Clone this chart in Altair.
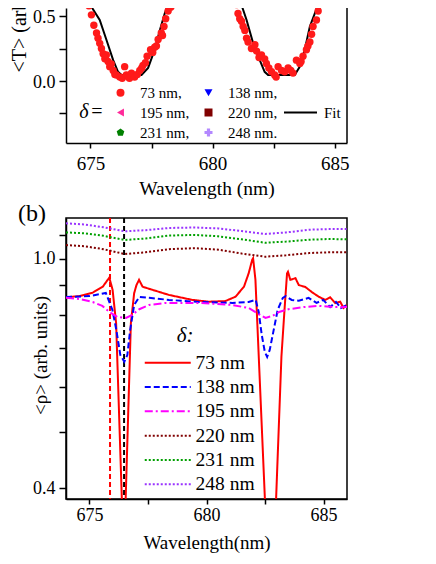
import altair as alt
import pandas as pd

FONT = "Liberation Serif"

# ---------------- data ----------------
series = ["73 nm", "138 nm", "195 nm", "220 nm", "231 nm", "248 nm"]
top_colors = ["#ff1a1a", "#0000ff", "#ff2a9a", "#800000", "#008000", "#b388ff"]
top_shapes = ["circle", "triangle-down", "triangle-left", "square",
              "M0,-1L0.951,-0.309L0.588,0.809L-0.588,0.809L-0.951,-0.309Z", "cross"]
line_colors = ["#ff0000", "#0000ff", "#ff00ff", "#800000", "#00a000", "#9933ff"]
line_dashes = [[1, 0], [6, 3], [8, 3, 2, 3], [2, 2], [2, 2], [2, 2]]

# panel (a): measured <T> for 73 nm
t73_wl = [674.90, 674.94, 675.04, 675.14, 675.25, 675.31, 675.38, 675.45, 675.52, 675.59,
          675.65, 675.72, 675.79, 675.85, 675.93, 676.00, 676.06, 676.20, 676.30, 676.40,
          676.47, 676.55, 676.60, 676.68, 676.81, 676.92, 677.02, 677.10, 677.15, 677.25,
          677.32, 677.46, 677.55, 677.63, 677.70, 677.77, 677.90, 677.95, 678.01, 678.08,
          678.18, 678.29, 678.38, 678.45,
          680.95, 680.98, 681.04, 681.11, 681.18, 681.25, 681.32, 681.39, 681.45, 681.59,
          681.73, 681.80, 681.90, 682.00, 682.13, 682.20, 682.30, 682.41, 682.54, 682.60,
          682.68, 682.82, 682.95, 683.09, 683.20, 683.29, 683.43, 683.57, 683.62, 683.70,
          683.84, 683.90, 683.98, 684.05, 684.11, 684.25, 684.32, 684.45, 684.50]
t73_val = [0.62, 0.58, 0.51, 0.43, 0.37, 0.33, 0.29, 0.25, 0.21, 0.17,
           0.20, 0.15, 0.11, 0.13, 0.08, 0.05, 0.045, 0.03, 0.02, 0.11,
           0.045, 0.03, 0.02, 0.06, 0.03, 0.05, 0.08, 0.10, 0.12, 0.14,
           0.19, 0.24, 0.22, 0.26, 0.27, 0.32, 0.37, 0.35, 0.42, 0.48,
           0.54, 0.57, 0.60, 0.64,
           0.63, 0.59, 0.52, 0.48, 0.46, 0.42, 0.39, 0.33, 0.30, 0.25,
           0.28, 0.23, 0.18, 0.20, 0.17, 0.135, 0.10, 0.07, 0.045, 0.03,
           0.11, 0.08, 0.07, 0.10, 0.08, 0.06, 0.16, 0.135, 0.15, 0.19,
           0.24, 0.27, 0.30, 0.36, 0.42, 0.47, 0.54, 0.61, 0.64]

fit_wl = [674.70, 674.86, 675.38, 675.65, 675.93, 676.13, 676.27, 677.09, 677.36, 677.63,
          677.84, 678.04, 678.25, 678.45, 679.70, 680.95, 681.11, 681.39, 681.66, 681.93,
          682.13, 682.27, 683.36, 683.57, 683.77, 683.98, 684.18, 684.39, 684.55]
fit_val = [0.75, 0.627, 0.47, 0.32, 0.16, 0.07, 0.045, 0.045, 0.10, 0.24,
           0.39, 0.52, 0.627, 0.72, 1.00, 0.72, 0.627, 0.47, 0.29, 0.16,
           0.07, 0.045, 0.045, 0.11, 0.24, 0.42, 0.52, 0.627, 0.72]

# panel (b): <rho> spectra
b73_wl = [674.00, 674.57, 675.14, 675.57, 675.78, 675.85, 675.99, 676.14, 676.47, 676.77,
          676.91, 677.01, 677.12, 677.27, 677.69, 678.40, 679.40, 680.10, 680.80, 681.24,
          681.60, 681.80, 681.95, 681.99, 682.09, 682.75, 683.20, 683.34, 683.44, 683.48,
          683.58, 683.80, 683.94, 684.22, 684.50, 684.79, 685.07, 685.28, 685.50, 685.71,
          685.85, 686.00]
b73_val = [0.858, 0.862, 0.874, 0.895, 0.920, 0.928, 0.884, 0.774, 0.30, 0.773,
           0.872, 0.901, 0.920, 0.895, 0.884, 0.866, 0.849, 0.843, 0.845, 0.860,
           0.895, 0.944, 0.996, 1.003, 0.920, 0.22, 0.677, 0.826, 0.944, 0.950,
           0.920, 0.926, 0.901, 0.894, 0.876, 0.860, 0.849, 0.858, 0.838, 0.843,
           0.822, 0.832]

b138_wl = [674.00, 675.00, 675.70, 675.98, 676.15, 676.32, 676.49, 676.62, 676.74, 676.91,
           677.13, 677.55, 678.40, 679.68, 681.10, 681.80, 682.10, 682.23, 682.36, 682.49,
           682.59, 682.70, 682.87, 683.04, 683.26, 683.38, 683.64, 683.94, 684.36, 684.70,
           684.98, 685.28, 685.53, 685.74, 686.00]
b138_val = [0.859, 0.862, 0.873, 0.816, 0.753, 0.681, 0.663, 0.681, 0.753, 0.832,
            0.859, 0.856, 0.849, 0.842, 0.839, 0.842, 0.849, 0.809, 0.738, 0.690,
            0.676, 0.695, 0.753, 0.816, 0.856, 0.862, 0.849, 0.846, 0.856, 0.839,
            0.849, 0.825, 0.842, 0.822, 0.832]

b195_wl = [674.00, 674.57, 675.14, 675.55, 675.85, 676.19, 676.56, 676.83, 677.13, 677.55,
           678.28, 679.68, 681.10, 681.80, 682.15, 682.52, 682.80, 683.10, 683.50, 684.15,
           684.80, 685.40, 686.00]
b195_val = [0.856, 0.852, 0.842, 0.829, 0.809, 0.793, 0.790, 0.800, 0.818, 0.832,
            0.839, 0.839, 0.832, 0.822, 0.806, 0.790, 0.796, 0.809, 0.818, 0.825,
            0.829, 0.825, 0.825]

smooth_wl = [674.0, 674.8, 675.6, 676.5, 677.4, 678.4, 679.5, 680.5, 681.5, 682.5,
             683.4, 684.4, 685.2, 686.0]
b220_val = [1.057, 1.052, 1.040, 1.020, 1.027, 1.040, 1.044, 1.038, 1.022, 1.009,
            1.015, 1.024, 1.027, 1.027]
b231_val = [1.112, 1.108, 1.097, 1.079, 1.085, 1.098, 1.101, 1.095, 1.082, 1.067,
            1.072, 1.080, 1.083, 1.082]
b248_val = [1.153, 1.148, 1.135, 1.117, 1.122, 1.132, 1.134, 1.130, 1.118, 1.105,
            1.112, 1.124, 1.127, 1.127]

marker_wl = [675.88, 676.48]
marker_colors = ["#ff0000", "#000000"]

x_ticks = [675, 677.5, 680, 682.5, 685]
ya_ticks = [-0.25, 0, 0.25, 0.5]
yb_ticks = [0.4, 0.5, 0.6, 0.7, 0.8, 0.9, 1.0, 1.1]

# ---------------- tables ----------------
top_pts = pd.DataFrame({"wl": t73_wl, "val": t73_val, "series": "73 nm"})
top_fit = pd.DataFrame({"wl": fit_wl, "val": fit_val, "kind": "Fit"})

rows = []
for name, wls, vals in [("73 nm", b73_wl, b73_val), ("138 nm", b138_wl, b138_val),
                        ("195 nm", b195_wl, b195_val), ("220 nm", smooth_wl, b220_val),
                        ("231 nm", smooth_wl, b231_val), ("248 nm", smooth_wl, b248_val)]:
    for w, v in zip(wls, vals):
        rows.append({"series": name, "wl": w, "val": v, "order": series.index(name)})
bot = pd.DataFrame(rows)

W = 281
HA = 135
HB = 281

# ---------------- panel (a) ----------------
xa = alt.X("wl:Q", scale=alt.Scale(domain=[674, 685.5], nice=False, zero=False),
           axis=alt.Axis(values=x_ticks, format=".1f",
                         labelExpr="datum.value % 5 == 0 ? format(datum.value, 'd') : ''",
                         labelFontSize=19, tickSize=5, tickWidth=1.5, labelPadding=6,
                         domainWidth=1.5, title="Wavelength (nm)", titleFontSize=19.5,
                         titleY=45, titleBaseline="middle", grid=False))
ya = alt.Y("val:Q", scale=alt.Scale(domain=[-0.48, 0.563], nice=False, zero=False),
           axis=alt.Axis(values=ya_ticks,
                         labelExpr="datum.value == 0 || datum.value == 0.5 ? format(datum.value, '.1f') : ''",
                         labelFontSize=18, labelOffset=1.5, tickSize=7, tickWidth=1.5,
                         labelPadding=4, domainWidth=1.5, title="<T> (arb. units)",
                         titleFontSize=20, titleAngle=270, titleAlign="left",
                         titleBaseline="alphabetic", titleX=-41, titleY=64, grid=False))

legA = alt.Legend(title=None, orient="none", legendX=47, legendY=77, columns=2,
                  direction="horizontal",
                  labelExpr="datum.label + (datum.label == '248 nm' ? '.' : ',')",
                  labelFontSize=15, symbolSize=64, labelOffset=12, columnPadding=11,
                  rowPadding=4, padding=0, symbolStrokeWidth=0)

pts = alt.Chart(top_pts).mark_point(filled=True, size=55, opacity=1, clip=True).encode(
    x=xa, y=ya,
    fill=alt.Fill("series:N", scale=alt.Scale(domain=series, range=top_colors), legend=legA),
    shape=alt.Shape("series:N", scale=alt.Scale(domain=series, range=top_shapes), legend=legA),
)

fit = alt.Chart(top_fit).mark_line(clip=True, strokeWidth=2).encode(
    x="wl:Q", y="val:Q",
    stroke=alt.Stroke("kind:N", scale=alt.Scale(domain=["Fit"], range=["black"]),
                      legend=alt.Legend(title=None, orient="none", legendX=217, legendY=87,
                                        symbolType="M-1,0L1,0", symbolSize=1089,
                                        symbolStrokeWidth=2, labelFontSize=15,
                                        labelOffset=6, padding=0)),
)

right_a = alt.Chart(top_pts.head(1)).mark_rule(color="black", strokeWidth=1.5).encode(
    x=alt.value(W), y=alt.value(0), y2=alt.value(HA))

delta_a = alt.Chart(top_pts.head(1)).mark_text(font=FONT, fontSize=20, fontStyle="italic",
                                               color="black").encode(
    x=alt.value(18), y=alt.value(104), text=alt.value("δ"))
eq_a = alt.Chart(top_pts.head(1)).mark_text(font=FONT, fontSize=20, color="black").encode(
    x=alt.value(31), y=alt.value(104), text=alt.value("="))

panel_a = alt.layer(fit, pts, right_a, delta_a, eq_a).properties(
    width=W, height=HA, view=alt.ViewBackground(stroke=None))

# ---------------- panel (b) ----------------
xb = alt.X("wl:Q", scale=alt.Scale(domain=[674, 686], nice=False, zero=False),
           axis=alt.Axis(values=x_ticks, format=".1f",
                         labelExpr="datum.value % 5 == 0 ? format(datum.value, 'd') : ''",
                         labelFontSize=18, tickSize=5, tickWidth=1.5, labelPadding=2,
                         domainWidth=1.5, title="Wavelength(nm)", titleFontSize=19,
                         titleY=43, titleBaseline="middle", grid=False))
yb = alt.Y("val:Q", scale=alt.Scale(type="log", domain=[0.383, 1.178], nice=False),
           axis=alt.Axis(values=yb_ticks,
                         labelExpr="abs(datum.value - 1) < 1e-6 || abs(datum.value - 0.4) < 1e-6 ? format(datum.value, '.1f') : ''",
                         labelFontSize=18, tickSize=7, tickWidth=1.5, labelPadding=4,
                         domainWidth=1.5, title="<ρ> (arb. units)", titleFontSize=19,
                         titleAngle=270, titleAlign="center", titleBaseline="alphabetic",
                         titleX=-20, titleY=137, grid=False))

legB = alt.Legend(title=None, orient="none", legendX=92, legendY=135,
                  symbolType="M-4.6,0L4.6,0", symbolSize=100, symbolStrokeWidth=2,
                  labelFontSize=19.5, labelOffset=18, rowPadding=3.3, padding=0)

lines = alt.Chart(bot).mark_line(clip=True, strokeWidth=2).encode(
    x=xb, y=yb,
    color=alt.Color("series:N", scale=alt.Scale(domain=series, range=line_colors), legend=legB),
    strokeDash=alt.StrokeDash("series:N", scale=alt.Scale(domain=series, range=line_dashes),
                              legend=legB),
    order=alt.Order("order:Q"),
)

marks = pd.DataFrame({"wl": marker_wl, "c": marker_colors})
rules = alt.Chart(marks).mark_rule(strokeWidth=2, strokeDash=[5, 3]).encode(
    x="wl:Q", color=alt.Color("c:N", scale=None))

b_label = alt.Chart(marks.head(1)).mark_text(font=FONT, fontSize=24, color="black").encode(
    x=alt.value(-34), y=alt.value(-4), text=alt.value("(b)"))
delta_b = alt.Chart(marks.head(1)).mark_text(font=FONT, fontSize=21, fontStyle="italic",
                                             color="black").encode(
    x=alt.value(119), y=alt.value(118), text=alt.value("δ:"))

panel_b = alt.layer(rules, lines, b_label, delta_b).properties(
    width=W, height=HB, view=alt.ViewBackground(stroke="black", strokeWidth=1.5))

chart = alt.vconcat(panel_a, panel_b, spacing=75, bounds="flush").resolve_scale(
    x="independent", y="independent", color="independent", strokeDash="independent"
).properties(
    autosize=alt.AutoSizeParams(type="none"),
    padding={"left": 58, "top": 0, "right": 80, "bottom": 545},
).configure_axis(
    labelFont=FONT, titleFont=FONT, labelColor="black", titleColor="black",
    tickColor="black", domainColor="black", titleFontWeight="normal",
).configure_legend(
    labelFont=FONT, labelColor="black",
).configure_view(strokeWidth=1.5)

chart.save("out.html", embed_options={"renderer": "svg", "actions": False})
